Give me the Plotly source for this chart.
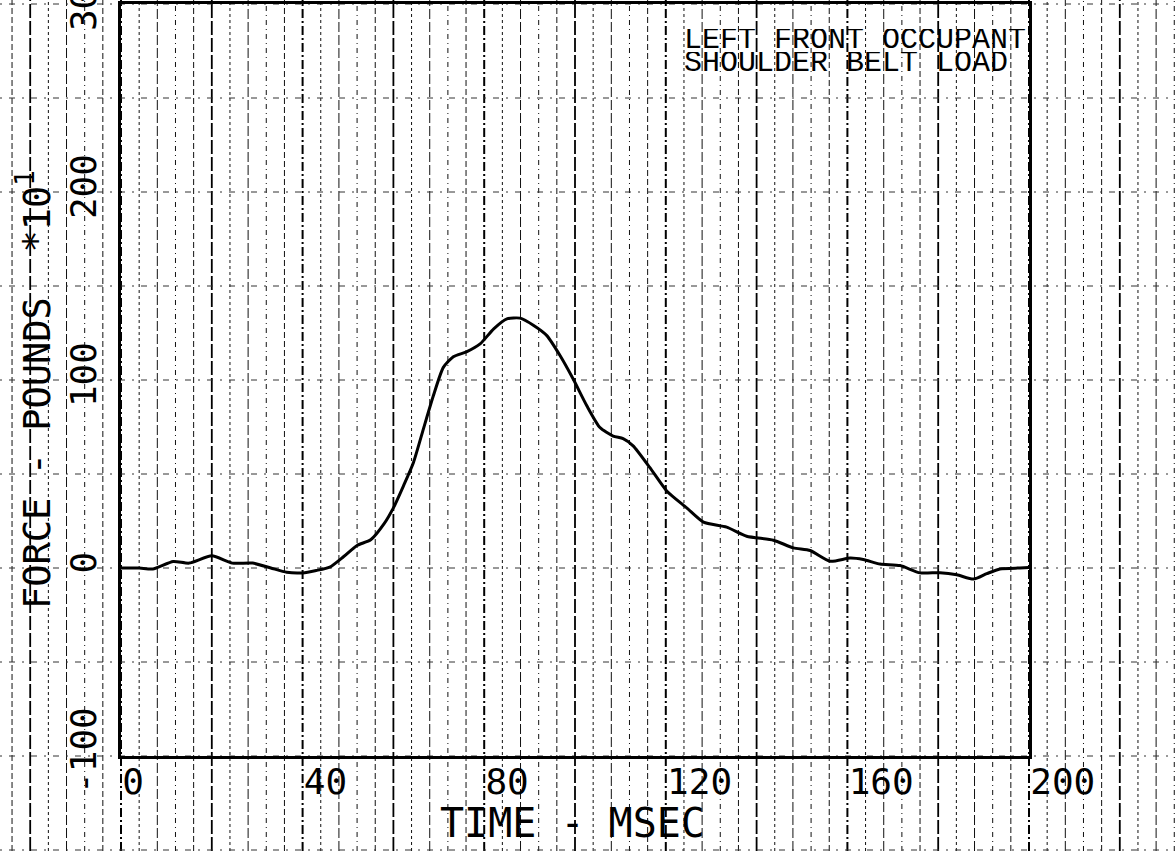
import plotly.graph_objects as go

# ---- data (time in msec, force in pounds x10) ----
time_ms = [0, 4, 7, 11.5, 15, 20, 24.5, 29, 33, 36.5, 40, 43, 46, 49, 52, 55, 58,
           60, 62.2, 64.4, 66.6, 68.8, 71, 73.2, 76.2, 79.1, 82.1, 85, 87.9, 90.9,
           93.8, 96.7, 99.6, 102.6, 105.5, 108.4, 110.6, 112.8, 116.5, 120.2,
           124.6, 128.3, 133.4, 137.8, 143.7, 148.1, 151.8, 156.2, 160.6, 163.5,
           167.2, 171.6, 176, 180.4, 184.1, 187.8, 190.7, 193.6, 198, 200]
force = [0, 0, -0.5, 3.5, 2.6, 6.5, 2.6, 2.6, 0, -2.3, -2.6, -1.3, 0.5, 6, 12, 15,
         23.7, 32, 43.6, 56, 73.9, 91.6, 106.7, 112.4, 115.1, 119.2, 127.2, 132.5,
         132.9, 129, 123.6, 113, 100.5, 86.3, 74.7, 70.2, 68.8, 65, 53.4, 41, 32,
         24.4, 21.7, 16.9, 14.8, 10.7, 9.3, 3.6, 5.3, 4.5, 2.1, 1.3, -2.6, -2.5,
         -3.6, -5.9, -3, -0.5, 0, 0.3]

x_ticks = [0, 40, 80, 120, 160, 200]
y_ticks = [-100, 0, 100, 200, 300]
title_lines = ["LEFT FRONT OCCUPANT", "SHOULDER BELT LOAD"]

XMIN, XMAX = 0, 200
YMIN, YMAX = -100, 300

W, H = 1175, 851
ML, MR, MT, MB = 121, 146, 4, 95
PW, PH = W - ML - MR, H - MT - MB

fig = go.Figure()
fig.add_trace(go.Scatter(x=time_ms, y=force, mode="lines",
                         line=dict(color="black", width=3, shape="spline", smoothing=0.6),
                         hoverinfo="skip", showlegend=False))

# ---- graph paper (extends past the frame) ----
def xd(t):
    return (t - XMIN) / (XMAX - XMIN)

def yd(v):
    return (v - YMIN) / (YMAX - YMIN)

shapes = []
x_lo = -ML / PW
x_hi = 1 + MR / PW
y_lo = -MB / PH
y_hi = 1 + MT / PH
minor_dashes = ["6px,3px", "8px,4px,2px,4px", "3px,3px", "10px,3px", "5px,4px,1px,4px"]
t = -24
k = 0
while t <= 232:
    if t % 40 == 0:
        style = dict(color="black", width=2, dash="9px,3px,2px,3px")
    elif t % 20 == 0:
        style = dict(color="black", width=1.8, dash="14px,3px")
    else:
        style = dict(color="#111", width=1, dash=minor_dashes[k % len(minor_dashes)])
    shapes.append(dict(type="line", xref="x domain", yref="y domain",
                       x0=xd(t), x1=xd(t), y0=y_lo, y1=y_hi,
                       line=style, layer="below"))
    t += 4
    k += 1

v = -150
while v <= 300:
    style = dict(color="#333", width=1, dash="2px,7px,6px,7px")
    shapes.append(dict(type="line", xref="x domain", yref="y domain",
                       x0=x_lo, x1=x_hi, y0=yd(v), y1=yd(v),
                       line=style, layer="below"))
    v += 50

fig.update_layout(shapes=shapes)

# ---- texts ----
fig.add_annotation(text=title_lines[0], xref="x", yref="y", x=123.5, y=281,
                   xanchor="left", yanchor="middle", showarrow=False, height=22,
                   font=dict(family="Liberation Mono", size=30, color="black"))
fig.add_annotation(text=title_lines[1], xref="x", yref="y", x=123.5, y=268.5,
                   xanchor="left", yanchor="middle", showarrow=False, height=22,
                   font=dict(family="Liberation Mono", size=30, color="black"))

fig.add_annotation(text="FORCE - POUNDS  *10<sup>1</sup>", xref="paper", yref="paper",
                   x=(34 - ML) / PW, y=(H - MB - 390) / PH, textangle=-90,
                   xanchor="center", yanchor="middle", showarrow=False,
                   font=dict(family="DejaVu Sans Mono", size=37, color="black"))
fig.add_annotation(text="TIME - MSEC", xref="paper", yref="paper",
                   x=(572 - ML) / PW, y=(H - MB - 823) / PH,
                   xanchor="center", yanchor="middle", showarrow=False,
                   font=dict(family="DejaVu Sans Mono", size=40, color="black"))

fig.update_xaxes(range=[XMIN, XMAX], tickvals=x_ticks, ticktext=[str(v) for v in x_ticks],
                 showgrid=False, zeroline=False, showline=True, mirror=True,
                 linecolor="black", linewidth=2.5, ticks="", automargin=False,
                 ticklabelposition="outside right", ticklabelstandoff=-8,
                 tickfont=dict(family="DejaVu Sans Mono", size=36, color="black"))
fig.update_yaxes(range=[YMIN, YMAX], tickvals=y_ticks, ticktext=[str(v) for v in y_ticks],
                 showgrid=False, zeroline=False, showline=True, mirror=True,
                 linecolor="black", linewidth=2.5, ticks="", tickangle=-90,
                 ticklabelstandoff=8, automargin=False, ticklabeloverflow="allow",
                 tickfont=dict(family="DejaVu Sans Mono", size=36, color="black"))

fig.update_layout(width=W, height=H, margin=dict(l=ML, r=MR, t=MT, b=MB, autoexpand=False),
                  paper_bgcolor="white", plot_bgcolor="white")

fig.write_html("out.html", config={"displayModeBar": False},
               post_script="document.body.style.margin='0';document.body.style.overflow='hidden';")
